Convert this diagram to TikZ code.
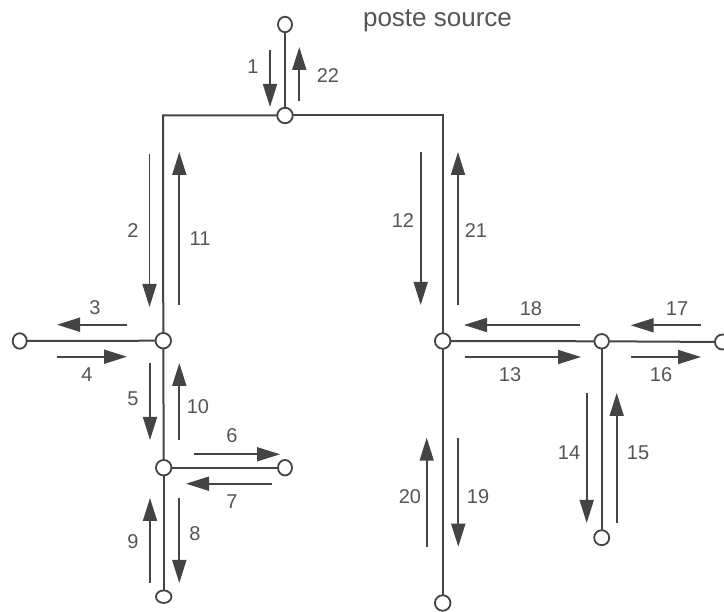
\documentclass[tikz,border=0pt]{standalone}
\usepackage{fontspec}
\setmainfont{Liberation Sans}
\usetikzlibrary{arrows.meta,shapes.geometric}
\definecolor{ink}{HTML}{444444}
\definecolor{lab}{HTML}{555555}
\tikzset{
  x=1pt,y=-1pt,
  jn/.style={draw=ink,line width=1.8pt,fill=white,circle,inner sep=0pt,outer sep=0pt,minimum size=15.5pt},
  endn/.style={draw=ink,line width=1.8pt,fill=white,ellipse,inner sep=0pt,outer sep=0pt,minimum width=14pt,minimum height=15.5pt},
  flatn/.style={draw=ink,line width=1.8pt,fill=white,ellipse,inner sep=0pt,outer sep=0pt,minimum width=15.5pt,minimum height=12.5pt},
  wire/.style={draw=ink,line width=2pt},
  flow/.style={draw=ink,line width=1.7pt,-{Triangle[length=23pt,width=14pt]}},
  num/.style={text=lab,font=\fontsize{20}{20}\selectfont,inner sep=0pt},
  captxt/.style={text=lab,font=\fontsize{26}{26}\selectfont,inner sep=0pt}
}
\newcommand{\flowarrow}[5]{%
  \coordinate (a#1) at (#2,#3);
  \coordinate (b#1) at (#4,#5);
  \draw[flow] (a#1) -- (b#1);}
\begin{document}
\begin{tikzpicture}
\useasboundingbox[fill=white] (0,0) rectangle (724,612);
% nodes
\node[endn] (top) at (285,24.5) {};
\node[jn] (j1) at (285,115.5) {};
\coordinate (cl) at (163,115.5);
\coordinate (cr) at (442.7,115.5);
\node[jn] (j2) at (163.3,340.7) {};
\node[endn] (left) at (19.7,341) {};
\node[jn] (j3) at (163.7,467.7) {};
\node[endn] (r3) at (285,467.7) {};
\node[flatn] (bl) at (163.7,596.7) {};
\node[jn] (j4) at (442.7,341) {};
\node[jn,minimum size=14.5pt] (j5) at (601.7,341.3) {};
\node[endn,minimum width=15pt,minimum height=15pt] (far) at (722.5,342) {};
\node[endn,minimum width=15pt,minimum height=15pt] (b5) at (601.7,537.7) {};
\node[endn,minimum width=15.5pt,minimum height=15.5pt] (b4) at (442.7,603) {};
% wires
\draw[wire] (top) -- (j1);
\draw[wire] (j1) -- (cl) -- (j2);
\draw[wire] (j1) -- (cr) -- (j4);
\draw[wire] (left) -- (j2);
\draw[wire] (j2) -- (j3);
\draw[wire] (j3) -- (r3);
\draw[wire] (j3) -- (bl);
\draw[wire] (j4) -- (j5);
\draw[wire] (j5) -- (far);
\draw[wire] (j5) -- (b5);
\draw[wire] (j4) -- (b4);
% flows
\flowarrow{1}{270}{50}{270}{107}
\flowarrow{22}{299.3}{101}{299.3}{47}
\flowarrow{2}{149.5}{154}{149.5}{307}
\flowarrow{11}{179.3}{305}{179.3}{152}
\flowarrow{12}{420.7}{152}{420.7}{305}
\flowarrow{21}{458}{305}{458}{152}
\flowarrow{3}{127}{324.7}{57}{324.7}
\flowarrow{4}{57}{356.7}{127}{356.7}
\flowarrow{5}{150}{363}{150}{440}
\flowarrow{10}{179.3}{440}{179.3}{363}
\flowarrow{6}{194}{454.3}{280}{454.3}
\flowarrow{7}{272}{483.7}{186}{483.7}
\flowarrow{8}{179.3}{498}{179.3}{583}
\flowarrow{9}{150}{583}{150}{498}
\flowarrow{18}{580}{325}{464}{325}
\flowarrow{13}{465}{357}{581}{357}
\flowarrow{17}{700.7}{325.3}{630.7}{325.3}
\flowarrow{16}{631}{357}{701}{357}
\flowarrow{14}{586.7}{393}{586.7}{523}
\flowarrow{15}{616.7}{523}{616.7}{393}
\flowarrow{20}{426.7}{546.7}{426.7}{437.7}
\flowarrow{19}{458.3}{437.7}{458.3}{546.7}
% labels
\node[captxt] (title) at (437.5,20.5) {poste source};
\node[num] (n1) at (253,67) {1};
\node[num] (n22) at (328,76) {22};
\node[num] (n2) at (133,231) {2};
\node[num] (n11) at (200,239) {11};
\node[num] (n12) at (403,221) {12};
\node[num] (n21) at (476,231) {21};
\node[num] (n3) at (95,308) {3};
\node[num] (n4) at (87,375) {4};
\node[num] (n5) at (133,399) {5};
\node[num] (n10) at (198,407) {10};
\node[num] (n6) at (232,436) {6};
\node[num] (n7) at (232,502) {7};
\node[num] (n8) at (195,534) {8};
\node[num] (n9) at (133,542) {9};
\node[num] (n18) at (531,309) {18};
\node[num] (n13) at (510,375) {13};
\node[num] (n17) at (677,309) {17};
\node[num] (n16) at (661,375) {16};
\node[num] (n14) at (569,453) {14};
\node[num] (n15) at (638,453) {15};
\node[num] (n20) at (410,497) {20};
\node[num] (n19) at (478,497) {19};
\end{tikzpicture}
\end{document}
